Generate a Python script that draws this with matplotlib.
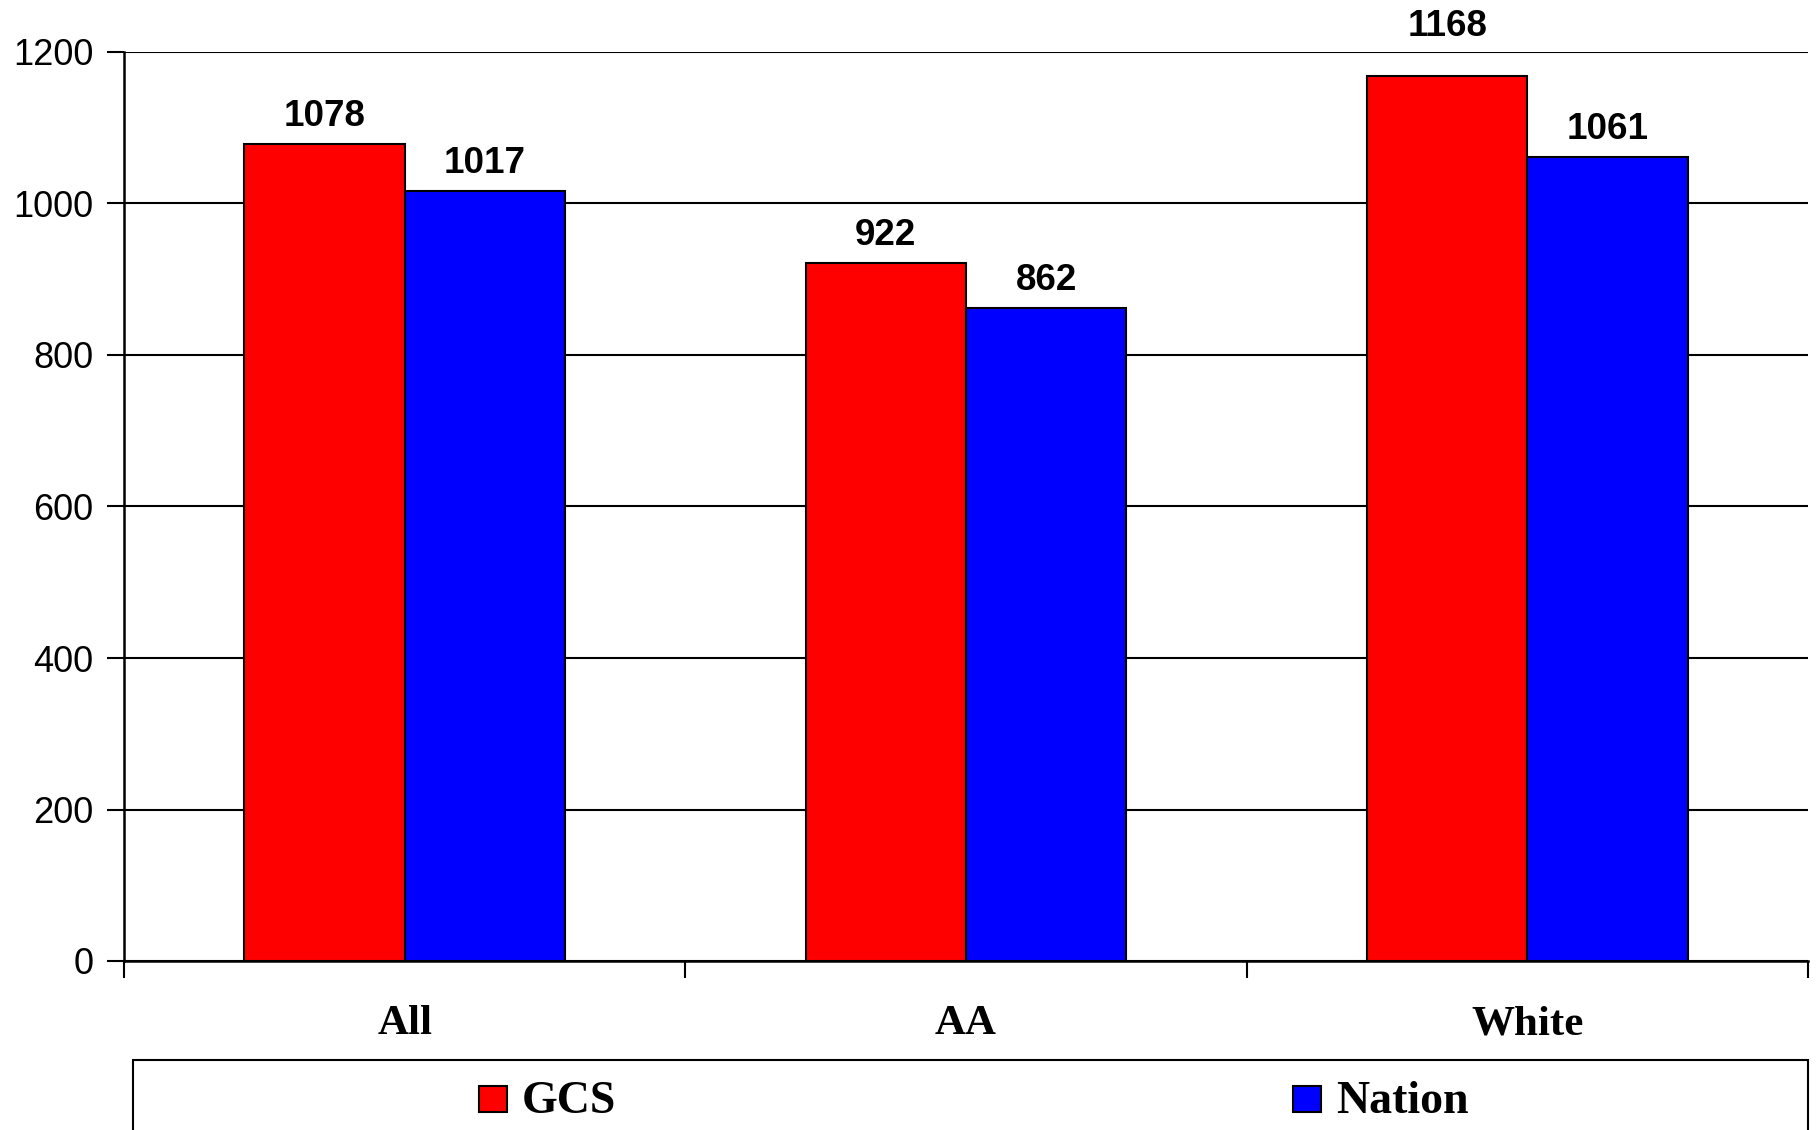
import matplotlib
matplotlib.use("Agg")
import matplotlib.pyplot as plt
from matplotlib.patches import Rectangle
import numpy as np

categories = ["All", "AA", "White"]
series_names = ["GCS", "Nation"]
gcs_values = [1078, 922, 1168]
nation_values = [1017, 862, 1061]
yticks = [0, 200, 400, 600, 800, 1000, 1200]

colors = ["#FF0000", "#0000FF"]
# label offsets above bar tops (points); the tallest label sits higher in the original
label_offsets = [[13, 13, 29], [13, 13, 13]]

W, H = 1817, 1130
fig = plt.figure(figsize=(W / 100, H / 100), dpi=100)
ax = fig.add_axes([124 / W, 1 - 961 / H, (1808 - 124) / W, (961 - 52) / H])

x = np.arange(len(categories))
bw = 1 / 3.5
for i, (vals, name) in enumerate(zip([gcs_values, nation_values], series_names)):
    pos = x + (i - 0.5) * bw
    bars = ax.bar(pos, vals, width=bw, color=colors[i], edgecolor="black",
                  linewidth=1.5, zorder=3, label=name)
    for j, (b, v) in enumerate(zip(bars, vals)):
        ax.annotate(str(v), (b.get_x() + b.get_width() / 2, v),
                    xytext=(0, label_offsets[i][j]), textcoords="offset points",
                    ha="center", va="baseline", fontsize=26.5,
                    fontweight="bold", family="Liberation Sans", zorder=4,
                    annotation_clip=False)

ax.set_xlim(-0.5, len(categories) - 0.5)
ax.set_ylim(0, 1200)
ax.set_yticks(yticks)
ax.set_yticklabels([str(t) for t in yticks], fontsize=26, family="Liberation Sans")
ax.yaxis.grid(True, color="black", linewidth=1.5, zorder=0)
ax.set_axisbelow(True)

ax.set_xticks(x)
ax.set_xticklabels(categories, fontsize=31, fontweight="bold", family="Liberation Serif")
ax.set_xticks(np.arange(-0.5, len(categories)), minor=True)
ax.tick_params(axis="x", which="major", length=0, pad=32)
ax.tick_params(axis="x", which="minor", length=12, width=1.5, direction="out")
ax.tick_params(axis="y", length=12, width=1.5, direction="out", pad=10)

for s in ["top", "right"]:
    ax.spines[s].set_visible(False)
for s in ["left", "bottom"]:
    ax.spines[s].set_linewidth(1.8)
    ax.spines[s].set_color("black")

# legend box (cut off at the bottom of the figure, as in the reference)
box = Rectangle((133 / W, -0.05), (1808 - 133) / W, (1 - 1060 / H) + 0.05,
                transform=fig.transFigure, facecolor="white", edgecolor="black",
                linewidth=1.5)
fig.patches.append(box)
marker_x = [479, 1293]
for mx, name, c in zip(marker_x, series_names, colors):
    fig.patches.append(Rectangle((mx / W, 1 - 1112 / H), 28 / W, 26 / H,
                                 transform=fig.transFigure, facecolor=c,
                                 edgecolor="black", linewidth=1.5))
    fig.text((mx + 43) / W, 1 - 1113 / H, name, fontsize=33, fontweight="bold",
             family="Liberation Serif", va="baseline", ha="left")

fig.savefig("out.png", dpi=100)
